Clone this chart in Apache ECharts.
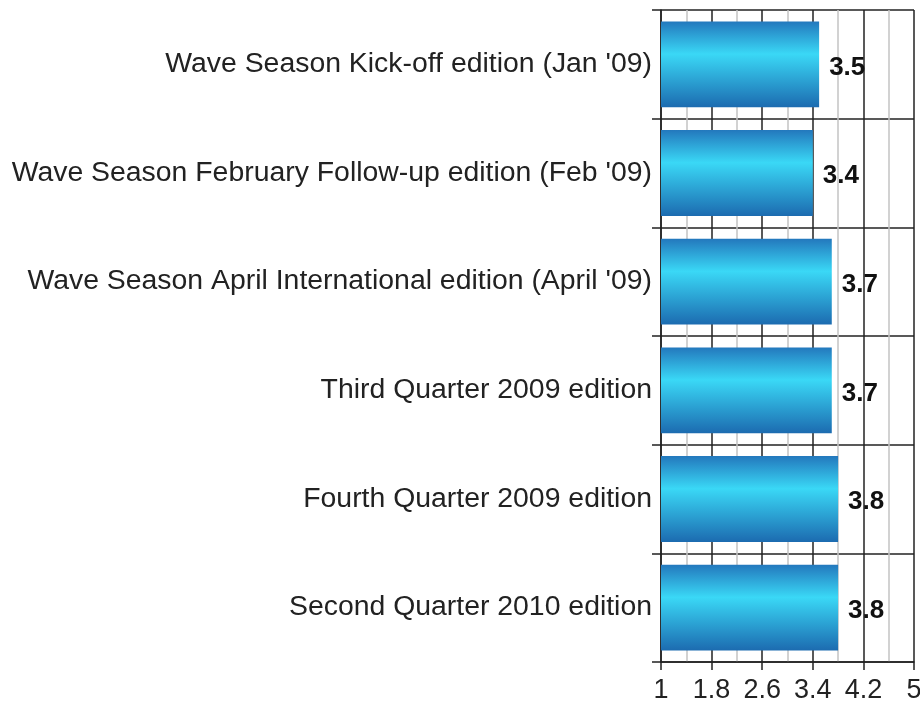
<!DOCTYPE html>
<html>
<head>
<meta charset="utf-8">
<script src="https://cdn.jsdelivr.net/npm/echarts@6/dist/echarts.min.js"></script>
<style>
  html, body { margin: 0; padding: 0; background: #fff; }
  #main { width: 920px; height: 704px; }
</style>
</head>
<body>
<div id="main"></div>
<script>
// editions, top to bottom
const editions = [
  "Wave Season Kick-off edition (Jan '09)",
  "Wave Season February Follow-up edition (Feb '09)",
  "Wave Season April International edition (April '09)",
  "Third Quarter 2009 edition",
  "Fourth Quarter 2009 edition",
  "Second Quarter 2010 edition"
];
const scores = [3.5, 3.4, 3.7, 3.7, 3.8, 3.8];
const axisMin = 1;
const axisMax = 5;
const axisStep = 0.8;

const chart = echarts.init(document.getElementById('main'));

const barFill = new echarts.graphic.LinearGradient(0, 0, 0, 1, [
  { offset: 0, color: '#2378bd' },
  { offset: 0.38, color: '#3ad8f6' },
  { offset: 1, color: '#1c6bb0' }
]);

chart.setOption({
  animation: false,
  grid: { left: 661, right: 6, top: 10, bottom: 42, outerBoundsMode: 'none' },
  xAxis: {
    type: 'value',
    min: axisMin,
    max: axisMax,
    interval: axisStep,
    axisLine: { show: true, lineStyle: { color: '#222', width: 1.5 } },
    axisTick: { show: true, length: 8, lineStyle: { color: '#222', width: 1.5 } },
    axisLabel: {
      color: '#222', fontSize: 27, fontFamily: 'Liberation Sans, Arial, sans-serif',
      margin: 15, showMaxLabel: true, hideOverlap: false,
      formatter: v => String(Math.round(v * 10) / 10)
    },
    splitLine: { show: true, lineStyle: { color: '#222', width: 1.5 } },
    minorTick: { show: false, splitNumber: 2 },
    minorSplitLine: { show: true, lineStyle: { color: '#c4c4c4', width: 1.5 } }
  },
  yAxis: {
    type: 'category',
    inverse: true,
    data: editions,
    axisLine: { show: true, lineStyle: { color: '#222', width: 1.5 } },
    axisTick: { show: true, length: 9, lineStyle: { color: '#222', width: 1.5 } },
    axisLabel: {
      color: '#222', fontSize: 28.4, fontFamily: 'Liberation Sans, Arial, sans-serif',
      margin: 9, padding: [3, 0, 0, 0]
    },
    splitLine: { show: true, lineStyle: { color: '#222', width: 1.5 } }
  },
  series: [{
    type: 'bar',
    data: scores,
    barCategoryGap: '21%',
    itemStyle: { color: barFill },
    label: {
      show: true,
      position: 'right',
      distance: 10,
      offset: [0, 3],
      color: '#111',
      fontSize: 26,
      fontWeight: 'bold',
      fontFamily: 'Liberation Sans, Arial, sans-serif'
    }
  }]
});
</script>
</body>
</html>
